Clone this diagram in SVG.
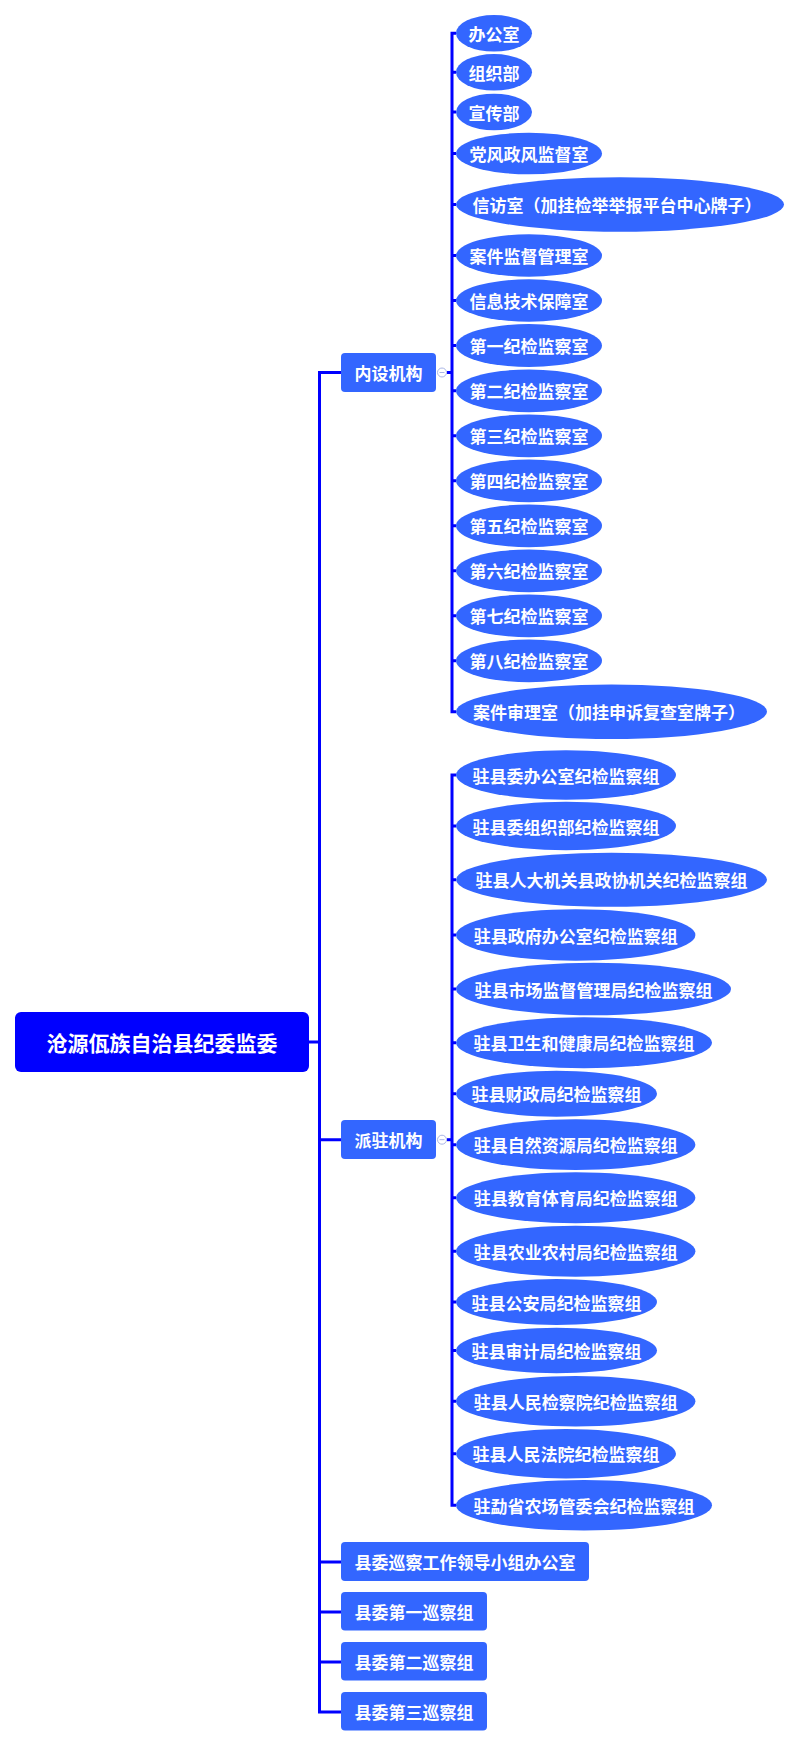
<svg xmlns="http://www.w3.org/2000/svg" width="800" height="1747" viewBox="0 0 800 1747">
<style>
.ln{fill:none;stroke:#0000FF;stroke-width:3;stroke-linejoin:miter;stroke-linecap:butt}
.nd{fill:#3366FF}
.rt{fill:#0000FF}
.t{font-family:"Noto Sans CJK SC","Noto Sans",sans-serif;font-weight:bold;font-size:17px;fill:#FFFFFF;text-anchor:middle;dominant-baseline:central}
.tr{font-size:21px}
.cl{fill:#FFFFFF;stroke:#A9B5E6;stroke-width:1}
</style>
<rect width="800" height="1747" fill="#FFFFFF"/>
<g id="connectors">
<path class="ln" d="M309 1042 H319.5"/>
<path class="ln" d="M341 372.5 H319.5 V1712 H341"/>
<path class="ln" d="M319.5 1139.7 H341 M319.5 1562 H341 M319.5 1612 H341 M319.5 1662 H341"/>
<path class="ln" d="M447 372.5 H452"/>
<path class="ln" d="M456 33.3 H452 V711.7 H456"/>
<path class="ln" d="M452 72.3 H456 M452 112 H456 M452 153.5 H456 M452 204.5 H456 M452 255.5 H456 M452 300.5 H456 M452 345.5 H456 M452 390.8 H456 M452 435.8 H456 M452 480.8 H456 M452 525.8 H456 M452 570.8 H456 M452 615.8 H456 M452 660.8 H456"/>
<path class="ln" d="M447 1139.7 H452"/>
<path class="ln" d="M456 775 H452 V1505.3 H456"/>
<path class="ln" d="M452 826 H456 M452 879.7 H456 M452 935 H456 M452 989 H456 M452 1042.8 H456 M452 1093.7 H456 M452 1144.7 H456 M452 1197.8 H456 M452 1251.2 H456 M452 1302 H456 M452 1350.5 H456 M452 1401.3 H456 M452 1453.7 H456"/>
</g>
<g id="root"><rect class="rt" x="15" y="1012" width="294" height="60" rx="6"/><text class="t tr" x="162" y="1042">沧源佤族自治县纪委监委</text></g>
<g id="neishe"><rect class="nd" x="341" y="353" width="95" height="39" rx="4"/><text class="t" x="388.5" y="372.5">内设机构</text><circle class="cl" cx="442" cy="372.5" r="4.5"/><path d="M439.5 372.5 H444.5" stroke="#A9B5E6" stroke-width="1"/></g>
<g id="paizhu"><rect class="nd" x="341" y="1120" width="95" height="39" rx="4"/><text class="t" x="388.5" y="1139.7">派驻机构</text><circle class="cl" cx="442" cy="1139.7" r="4.5"/><path d="M439.5 1139.7 H444.5" stroke="#A9B5E6" stroke-width="1"/></g>
<g id="n1"><ellipse class="nd" cx="494" cy="33.3" rx="38" ry="18.3"/><text class="t" x="494" y="33.3">办公室</text></g>
<g id="n2"><ellipse class="nd" cx="494" cy="72.3" rx="38" ry="18.3"/><text class="t" x="494" y="72.3">组织部</text></g>
<g id="n3"><ellipse class="nd" cx="494" cy="112" rx="38" ry="18.3"/><text class="t" x="494" y="112">宣传部</text></g>
<g id="n4"><ellipse class="nd" cx="529" cy="153.5" rx="73" ry="20.8"/><text class="t" x="529" y="153.5">党风政风监督室</text></g>
<g id="n5"><ellipse class="nd" cx="620" cy="204.5" rx="164" ry="27.2"/><text class="t" x="617" y="204.5">信访室（加挂检举举报平台中心牌子）</text></g>
<g id="n6"><ellipse class="nd" cx="529" cy="255.5" rx="73" ry="21.2"/><text class="t" x="529" y="255.5">案件监督管理室</text></g>
<g id="n7"><ellipse class="nd" cx="529" cy="300.5" rx="73" ry="21.2"/><text class="t" x="529" y="300.5">信息技术保障室</text></g>
<g id="n8"><ellipse class="nd" cx="529" cy="345.5" rx="73" ry="21.4"/><text class="t" x="529" y="345.5">第一纪检监察室</text></g>
<g id="n9"><ellipse class="nd" cx="529" cy="390.8" rx="73" ry="21.4"/><text class="t" x="529" y="390.8">第二纪检监察室</text></g>
<g id="n10"><ellipse class="nd" cx="529" cy="435.8" rx="73" ry="21.4"/><text class="t" x="529" y="435.8">第三纪检监察室</text></g>
<g id="n11"><ellipse class="nd" cx="529" cy="480.8" rx="73" ry="21.4"/><text class="t" x="529" y="480.8">第四纪检监察室</text></g>
<g id="n12"><ellipse class="nd" cx="529" cy="525.8" rx="73" ry="21.4"/><text class="t" x="529" y="525.8">第五纪检监察室</text></g>
<g id="n13"><ellipse class="nd" cx="529" cy="570.8" rx="73" ry="21.4"/><text class="t" x="529" y="570.8">第六纪检监察室</text></g>
<g id="n14"><ellipse class="nd" cx="529" cy="615.8" rx="73" ry="21.4"/><text class="t" x="529" y="615.8">第七纪检监察室</text></g>
<g id="n15"><ellipse class="nd" cx="529" cy="660.8" rx="73" ry="21.4"/><text class="t" x="529" y="660.8">第八纪检监察室</text></g>
<g id="n16"><ellipse class="nd" cx="611.5" cy="711.7" rx="155.5" ry="27.3"/><text class="t" x="609" y="711.7">案件审理室（加挂申诉复查室牌子）</text></g>
<g id="p1"><ellipse class="nd" cx="566" cy="775" rx="110" ry="24.7"/><text class="t" x="566" y="775">驻县委办公室纪检监察组</text></g>
<g id="p2"><ellipse class="nd" cx="566" cy="826" rx="110" ry="24.2"/><text class="t" x="566" y="826">驻县委组织部纪检监察组</text></g>
<g id="p3"><ellipse class="nd" cx="611.5" cy="879.7" rx="155.5" ry="27"/><text class="t" x="611.5" y="879.7">驻县人大机关县政协机关纪检监察组</text></g>
<g id="p4"><ellipse class="nd" cx="575.7" cy="935" rx="119.7" ry="25.8"/><text class="t" x="575.7" y="935">驻县政府办公室纪检监察组</text></g>
<g id="p5"><ellipse class="nd" cx="593.5" cy="989" rx="137.5" ry="26.2"/><text class="t" x="593.5" y="989">驻县市场监督管理局纪检监察组</text></g>
<g id="p6"><ellipse class="nd" cx="584" cy="1042.8" rx="128" ry="25.5"/><text class="t" x="584" y="1042.8">驻县卫生和健康局纪检监察组</text></g>
<g id="p7"><ellipse class="nd" cx="556.5" cy="1093.7" rx="100.5" ry="23"/><text class="t" x="556.5" y="1093.7">驻县财政局纪检监察组</text></g>
<g id="p8"><ellipse class="nd" cx="575.7" cy="1144.7" rx="119.7" ry="25.4"/><text class="t" x="575.7" y="1144.7">驻县自然资源局纪检监察组</text></g>
<g id="p9"><ellipse class="nd" cx="575.7" cy="1197.8" rx="119.7" ry="25.5"/><text class="t" x="575.7" y="1197.8">驻县教育体育局纪检监察组</text></g>
<g id="p10"><ellipse class="nd" cx="575.7" cy="1251.2" rx="119.7" ry="25.5"/><text class="t" x="575.7" y="1251.2">驻县农业农村局纪检监察组</text></g>
<g id="p11"><ellipse class="nd" cx="556.5" cy="1302" rx="100.5" ry="23"/><text class="t" x="556.5" y="1302">驻县公安局纪检监察组</text></g>
<g id="p12"><ellipse class="nd" cx="556.5" cy="1350.5" rx="100.5" ry="22.8"/><text class="t" x="556.5" y="1350.5">驻县审计局纪检监察组</text></g>
<g id="p13"><ellipse class="nd" cx="575.7" cy="1401.3" rx="119.7" ry="25.3"/><text class="t" x="575.7" y="1401.3">驻县人民检察院纪检监察组</text></g>
<g id="p14"><ellipse class="nd" cx="566" cy="1453.7" rx="110" ry="24.7"/><text class="t" x="566" y="1453.7">驻县人民法院纪检监察组</text></g>
<g id="p15"><ellipse class="nd" cx="584" cy="1505.3" rx="128" ry="25.3"/><text class="t" x="584" y="1505.3">驻勐省农场管委会纪检监察组</text></g>
<g id="x1"><rect class="nd" x="341" y="1542" width="248" height="39" rx="4"/><text class="t" x="465" y="1561.5">县委巡察工作领导小组办公室</text></g>
<g id="x2"><rect class="nd" x="341" y="1592" width="146" height="38.5" rx="4"/><text class="t" x="414" y="1611.3">县委第一巡察组</text></g>
<g id="x3"><rect class="nd" x="341" y="1642" width="146" height="38.5" rx="4"/><text class="t" x="414" y="1661.3">县委第二巡察组</text></g>
<g id="x4"><rect class="nd" x="341" y="1692" width="146" height="38.5" rx="4"/><text class="t" x="414" y="1711.3">县委第三巡察组</text></g>
</svg>
